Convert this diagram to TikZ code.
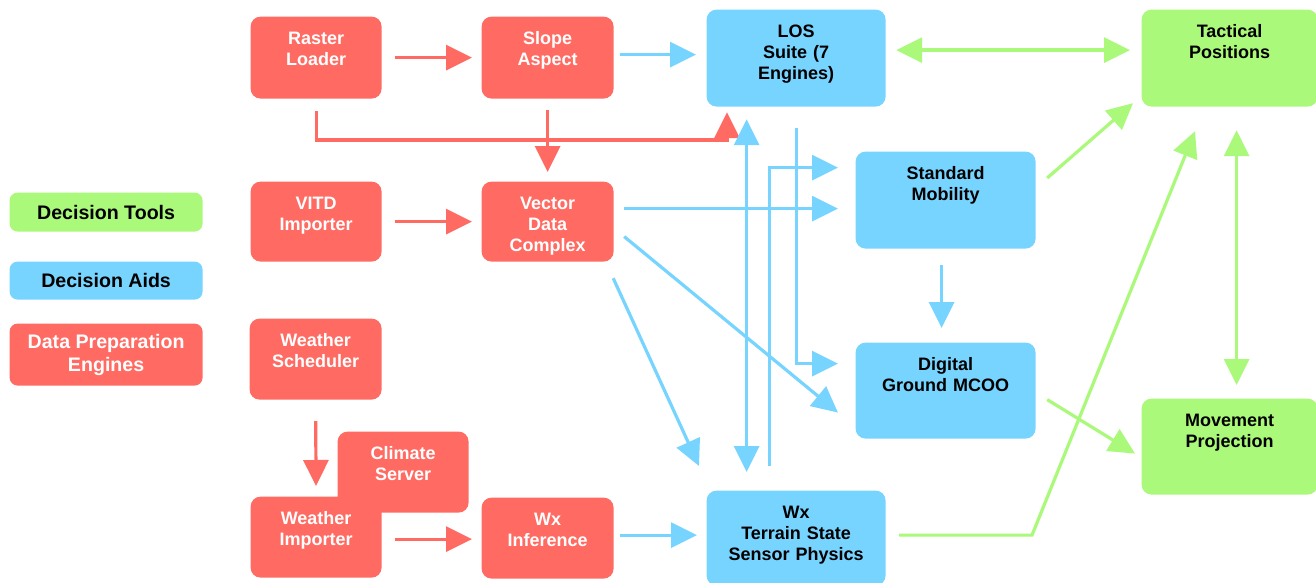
\documentclass[tikz,border=0pt]{standalone}
\usepackage{fontspec}
\setmainfont{Liberation Sans}
\usetikzlibrary{arrows.meta}

\definecolor{prepred}{HTML}{FF6B63}
\definecolor{aidblue}{HTML}{77D4FF}
\definecolor{toolgreen}{HTML}{AAF97A}

\begin{document}
\begin{tikzpicture}[%
	x=0.5pt,
	y=-0.5pt,
	line width=1.6pt,
	>={Triangle[length=13pt,width=12.5pt]},
	box/.style={%
		rectangle,
		rounded corners=5pt,
		inner sep=0pt,
		anchor=north west,
		align=center,
		text height=14pt,
		font=\bfseries\fontsize{9}{10.5}\selectfont
	},
	prep/.style={box, fill=prepred, text=white},
	aid/.style={box, fill=aidblue},
	tool/.style={box, fill=toolgreen},
	key/.style={%
		rectangle,
		rounded corners=4pt,
		inner sep=0pt,
		anchor=north west,
		align=center,
		minimum width=96.5pt,
		font=\bfseries\fontsize{9.8}{11.5}\selectfont
	},
	redline/.style={->, draw=prepred},
	blueline/.style={->, draw=aidblue},
	greenline/.style={->, draw=toolgreen}
	]

	\useasboundingbox (0,0) rectangle (1316,583);

	% legend
	\node[key, fill=toolgreen, minimum height=19.5pt] (ktools) at (8,191) {Decision Tools};
	\node[key, fill=aidblue, minimum height=19pt] (kaids) at (8,260) {Decision Aids};
	\node[key, fill=prepred, text=white, minimum height=31pt] (kprep) at (8,322) {Data Preparation\\Engines};

	% data preparation engines
	\node[prep, text width=65.5pt, text depth=27pt] (raster) at (249,15) {Raster\\Loader};
	\node[prep, text width=66pt, text depth=27pt] (slope) at (480,15) {Slope\\Aspect};
	\node[prep, text width=65.5pt, text depth=26pt] (vitd) at (249,180) {VITD\\Importer};
	\node[prep, text width=66pt, text depth=26pt] (vdc) at (480,180) {Vector\\Data\\Complex};
	\node[prep, text width=66pt, text depth=26.5pt] (wsched) at (248,317) {Weather\\Scheduler};
	\node[prep, text width=65.5pt, text depth=26.5pt] (climate) at (336,430) {Climate\\Server};
	\node[prep, text width=65.5pt, text depth=26.5pt] (wimp) at (249,495) {Weather\\Importer};
	\node[prep, text width=66pt, text depth=26.5pt] (wxinf) at (480,496) {Wx\\Inference};

	% decision aids
	\node[aid, text width=89.5pt, text depth=34.5pt] (los) at (705,8) {LOS\\Suite (7\\Engines)};
	\node[aid, text width=90pt, text depth=34.5pt] (stdmob) at (854,150) {Standard\\Mobility};
	\node[aid, text width=90pt, text depth=34pt] (dgm) at (854,341) {Digital\\Ground MCOO};
	\node[aid, text width=89.5pt, text depth=33.5pt] (wx) at (705,489) {Wx\\Terrain State\\Sensor Physics};

	% decision tools
	\node[tool, text width=88pt, text depth=34.5pt] (tact) at (1140,8) {Tactical\\Positions};
	\node[tool, text width=88pt, text depth=34pt] (move) at (1140,397) {Movement\\Projection};

	\draw[redline, shorten <=6pt, shorten >=4pt] (raster) -- (slope);
	\draw[redline, shorten <=5.5pt, shorten >=2pt] (raster.south) |- (727,140) -- (los.south -| 727,0);
	\draw[redline, shorten <=5pt, shorten >=4pt] (slope) -- (vdc);
	\draw[redline, shorten <=6pt, shorten >=4pt] (vitd) -- (vdc);
	\draw[redline, shorten <=10pt, shorten >=4.5pt] (wsched.south) -- (wimp.north);
	\draw[redline, shorten <=6pt, shorten >=4pt] ([yshift=-1pt]wimp.east) -- ([yshift=-1pt]wimp.east -| wxinf.west);

	\draw[blueline, shorten <=2.5pt, shorten >=4.5pt] ([yshift=1.5pt]slope.east) -- ([yshift=1.5pt]slope.east -| los.west);
	\draw[blueline, shorten <=4.5pt, shorten >=8pt] ([yshift=6.5pt]vdc.east) -- ([yshift=6.5pt]vdc.east -| stdmob.west);
	\draw[blueline, shorten <=11.5pt, shorten >=8pt] ([xshift=-13.25pt]wx.north) |- ([yshift=16.25pt]stdmob.west);
	\draw[blueline, shorten <=10pt, shorten >=8pt] (los.south) |- ([yshift=13.5pt]dgm.west);
	\draw[blueline, <->, shorten <=5.5pt, shorten >=8.5pt] ([xshift=-24.75pt]los.south) -- ([xshift=-24.75pt]wx.north);
	\draw[blueline] ([shift={(-1pt,-7.5pt)}]vdc.south east) -- ([shift={(-3pt,11.5pt)}]wx.north west);
	\draw[blueline] ([shift={(4.5pt,-7.5pt)}]vdc.east) -- ([shift={(-8pt,-11pt)}]dgm.west);
	\draw[blueline, shorten <=7.5pt, shorten >=6.5pt] ([xshift=-2pt]stdmob.south) -- ([xshift=-2pt]dgm.north);
	\draw[blueline, shorten <=2.5pt, shorten >=4pt] ([yshift=1.5pt]wxinf.east) -- ([yshift=1.5pt]wxinf.east -| wx.west);

	\draw[greenline, <->, shorten <=4.5pt, shorten >=5pt] ([yshift=4pt]los.east) -- ([yshift=4pt]los.east -| tact.west);
	\draw[greenline] ([shift={(5pt,-14pt)}]stdmob.north east) -- ([shift={(-3.5pt,2.5pt)}]tact.south west);
	\draw[greenline, shorten <=6pt] ([yshift=1.5pt]wx.east) -- ([yshift=1.5pt]wx.east -| 1032,0) -- ([shift={(27.5pt,-11.5pt)}]tact.south west);
	\draw[greenline, <->, shorten <=11pt, shorten >=6pt] ([xshift=3.5pt]tact.south) -- ([xshift=3.5pt]move.north);
	\draw[greenline] ([shift={(5pt,-4.5pt)}]dgm.east) -- ([shift={(-2.5pt,-3.5pt)}]move.west);
\end{tikzpicture}
\end{document}
